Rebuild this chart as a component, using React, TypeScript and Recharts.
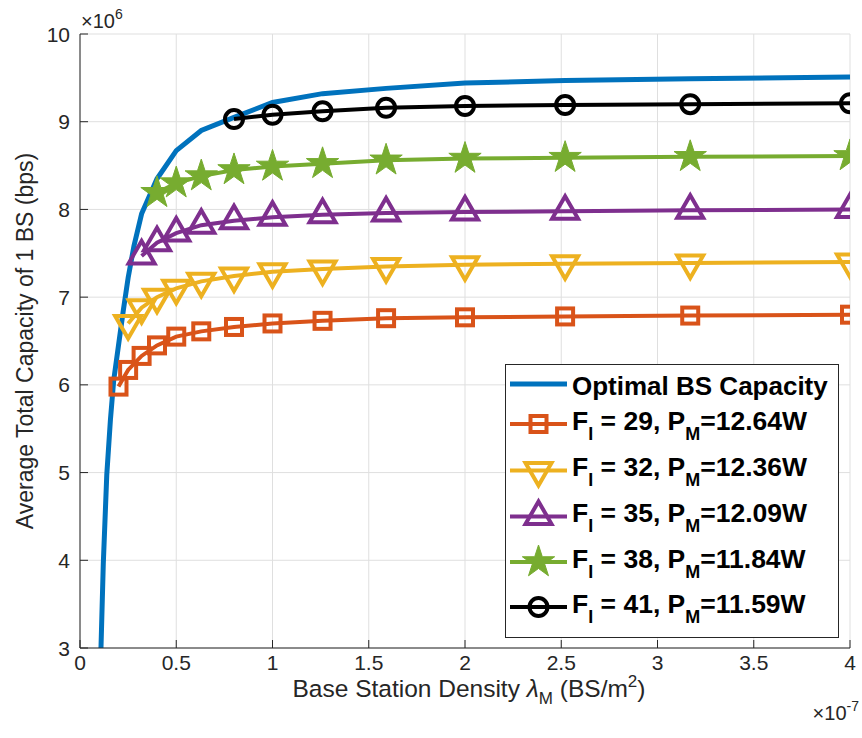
import { LineChart, Line, XAxis, YAxis, CartesianGrid } from "recharts"

const FONT = '"Liberation Sans", Arial, Helvetica, sans-serif'
const AXIS = "#262626"
const GRID = "#dfdfdf"

// x values are in units of 1e-7 BS/m^2, capacities in units of 1e6 bps
const xTicks = [0, 0.5, 1, 1.5, 2, 2.5, 3, 3.5, 4]
const yTicks = [3, 4, 5, 6, 7, 8, 9, 10]

const densityOptimal = [
  0.109, 0.121, 0.139, 0.158, 0.175, 0.2, 0.225, 0.25, 0.28, 0.32, 0.4, 0.5, 0.63, 0.8, 1.0, 1.26, 1.59, 2.0,
  2.52, 3.17, 4.0,
]
const capOptimal = [
  3.0, 3.96, 4.97, 5.6, 6.05, 6.45, 6.85, 7.22, 7.58, 7.95, 8.35, 8.67, 8.9, 9.05, 9.22, 9.32, 9.38, 9.44, 9.47,
  9.49, 9.51,
]

// sampled densities shared by the marker curves
const densitySampled = [0.2, 0.25, 0.32, 0.4, 0.5, 0.63, 0.8, 1.0, 1.26, 1.59, 2.0, 2.52, 3.17, 4.0]

const capF29 = [5.98, 6.17, 6.33, 6.45, 6.55, 6.61, 6.66, 6.7, 6.73, 6.76, 6.77, 6.78, 6.79, 6.8]
const capF32 = [6.7, 6.88, 7.0, 7.1, 7.18, 7.24, 7.29, 7.32, 7.35, 7.37, 7.38, 7.39, 7.4]
const capF35 = [7.47, 7.62, 7.73, 7.82, 7.87, 7.91, 7.94, 7.96, 7.97, 7.98, 7.99, 8.0]
const capF38 = [8.19, 8.3, 8.38, 8.45, 8.49, 8.52, 8.56, 8.58, 8.59, 8.6, 8.61]
const capF41 = [9.03, 9.08, 9.12, 9.16, 9.18, 9.19, 9.2, 9.21]

const fiValues = [29, 32, 35, 38, 41]
const pmValues = ["12.64", "12.36", "12.09", "11.84", "11.59"]

type Shape = "square" | "down" | "up" | "star" | "circle"

const toPoints = (xs: number[], ys: number[]) => ys.map((y, i) => ({ x: xs[i], y }))
// each marker curve starts later along the sampled densities
const tail = (ys: number[]) => toPoints(densitySampled.slice(densitySampled.length - ys.length), ys)

const series: { name: string; color: string; shape: Shape; data: { x: number; y: number }[] }[] = [
  { name: "f29", color: "#D95319", shape: "square", data: tail(capF29) },
  { name: "f32", color: "#EDB120", shape: "down", data: tail(capF32) },
  { name: "f35", color: "#7E2F8E", shape: "up", data: tail(capF35) },
  { name: "f38", color: "#77AC30", shape: "star", data: tail(capF38) },
  { name: "f41", color: "#000000", shape: "circle", data: tail(capF41) },
]

function starPath(cx: number, cy: number, R: number) {
  const r = R * 0.382
  let d = ""
  for (let i = 0; i < 10; i++) {
    const rad = i % 2 === 0 ? R : r
    const a = -Math.PI / 2 + (i * Math.PI) / 5
    d += `${i === 0 ? "M" : "L"}${cx + rad * Math.cos(a)},${cy + rad * Math.sin(a)}`
  }
  return d + "Z"
}

function Marker({ shape, cx, cy, color }: { shape: Shape; cx: number; cy: number; color: string }) {
  const sw = 4
  switch (shape) {
    case "square":
      return <rect x={cx - 8} y={cy - 8} width={16} height={16} fill="none" stroke={color} strokeWidth={sw} />
    case "down":
      return (
        <path
          d={`M${cx - 13},${cy - 7.5}L${cx + 13},${cy - 7.5}L${cx},${cy + 15}Z`}
          fill="none"
          stroke={color}
          strokeWidth={sw}
        />
      )
    case "up":
      return (
        <path
          d={`M${cx - 13},${cy + 7.5}L${cx + 13},${cy + 7.5}L${cx},${cy - 15}Z`}
          fill="none"
          stroke={color}
          strokeWidth={sw}
        />
      )
    case "star":
      return <path d={starPath(cx, cy, 17)} fill={color} stroke={color} strokeWidth={1} />
    default:
      return <circle cx={cx} cy={cy} r={9} fill="none" stroke={color} strokeWidth={sw} />
  }
}

function BottomTick({ x, y, payload }: any) {
  return (
    <g>
      <line x1={x} y1={y} x2={x} y2={y - 8} stroke={AXIS} />
      <text x={x} y={y + 22} textAnchor="middle" fontSize={21} fill={AXIS} fontFamily={FONT}>
        {String(payload.value)}
      </text>
    </g>
  )
}

function LeftTick({ x, y, payload }: any) {
  return (
    <g>
      <line x1={x} y1={y} x2={x + 8} y2={y} stroke={AXIS} />
      <text x={x - 10} y={y + 7.5} textAnchor="end" fontSize={21} fill={AXIS} fontFamily={FONT}>
        {String(payload.value)}
      </text>
    </g>
  )
}

function TopTick({ x, y }: any) {
  return <line x1={x} y1={y} x2={x} y2={y + 8} stroke={AXIS} />
}

function RightTick({ x, y }: any) {
  return <line x1={x} y1={y} x2={x - 8} y2={y} stroke={AXIS} />
}

const legendRows = [
  { lineY: 384, textY: 395 },
  { lineY: 424, textY: 430 },
  { lineY: 470.5, textY: 476 },
  { lineY: 516.5, textY: 522 },
  { lineY: 562, textY: 568 },
  { lineY: 607, textY: 613 },
]

function LegendBox() {
  return (
    <g fontFamily={FONT} fontWeight="bold" fill="#000">
      <rect x={505.5} y={364.5} width={333} height={273} fill="#fff" stroke={AXIS} strokeWidth={1} />
      <line x1={510} x2={567} y1={legendRows[0].lineY} y2={legendRows[0].lineY} stroke="#0072BD" strokeWidth={5} />
      <text x={572} y={legendRows[0].textY} fontSize={26}>
        Optimal BS Capacity
      </text>
      {series.map((s, i) => {
        const row = legendRows[i + 1]
        return (
          <g key={s.name}>
            <line x1={510} x2={567} y1={row.lineY} y2={row.lineY} stroke={s.color} strokeWidth={4} />
            <Marker shape={s.shape} cx={538.5} cy={row.lineY} color={s.color} />
            <text x={572} y={row.textY} fontSize={26.5}>
              F
              <tspan fontSize={18} dy={10}>
                I
              </tspan>
              <tspan dy={-10}>{` = ${fiValues[i]}, P`}</tspan>
              <tspan fontSize={18} dy={10}>
                M
              </tspan>
              <tspan dy={-10}>{`=${pmValues[i]}W`}</tspan>
            </text>
          </g>
        )
      })}
    </g>
  )
}

export default function App() {
  return (
    <div style={{ position: "absolute", left: 0, top: 0, width: 862, height: 738, background: "#fff" }}>
      <LineChart width={862} height={738} margin={{ top: 34, right: 12, bottom: 0, left: 0 }}>
        <CartesianGrid stroke={GRID} strokeWidth={1} />
        <XAxis
          dataKey="x"
          type="number"
          domain={[0, 4]}
          ticks={xTicks}
          interval={0}
          allowDataOverflow
          height={90}
          tickSize={0}
          tickMargin={0}
          axisLine={{ stroke: AXIS }}
          tickLine={false}
          tick={<BottomTick />}
        />
        <XAxis
          xAxisId="top"
          orientation="top"
          dataKey="x"
          type="number"
          domain={[0, 4]}
          ticks={xTicks}
          interval={0}
          allowDataOverflow
          height={0}
          tickSize={0}
          tickMargin={0}
          axisLine={{ stroke: AXIS }}
          tickLine={false}
          tick={<TopTick />}
        />
        <YAxis
          type="number"
          domain={[3, 10]}
          ticks={yTicks}
          interval={0}
          allowDataOverflow
          width={80}
          tickSize={0}
          tickMargin={0}
          axisLine={{ stroke: AXIS }}
          tickLine={false}
          tick={<LeftTick />}
        />
        <YAxis
          yAxisId="right"
          orientation="right"
          type="number"
          domain={[3, 10]}
          ticks={yTicks}
          interval={0}
          allowDataOverflow
          width={0}
          tickSize={0}
          tickMargin={0}
          axisLine={{ stroke: AXIS }}
          tickLine={false}
          tick={<RightTick />}
        />
        <Line
          data={toPoints(densityOptimal, capOptimal)}
          dataKey="y"
          type="linear"
          stroke="#0072BD"
          strokeWidth={5}
          dot={false}
          activeDot={false}
          isAnimationActive={false}
        />
        {series.map((s) => (
          <Line
            key={s.name}
            data={s.data}
            dataKey="y"
            type="linear"
            stroke={s.color}
            strokeWidth={4}
            activeDot={false}
            isAnimationActive={false}
            dot={(p: any) => (
              <Marker key={`${s.name}-${p.index}`} shape={s.shape} cx={p.cx} cy={p.cy} color={s.color} />
            )}
          />
        ))}
      </LineChart>
      <svg
        width={862}
        height={738}
        style={{ position: "absolute", left: 0, top: 0, pointerEvents: "none" }}
        fontFamily={FONT}
      >
        <LegendBox />
        <text x={81} y={28} fontSize={20} fill={AXIS}>
          ×10
          <tspan fontSize={14} dy={-9}>
            6
          </tspan>
        </text>
        <text
          transform="translate(33, 341) rotate(-90)"
          textAnchor="middle"
          fontSize={23}
          fill={AXIS}
        >
          Average Total Capacity of 1 BS (bps)
        </text>
        <text x={469} y={697} textAnchor="middle" fontSize={24.5} fill={AXIS}>
          Base Station Density{" "}
          <tspan fontStyle="italic">λ</tspan>
          <tspan fontSize={17} dy={7}>
            M
          </tspan>
          <tspan dy={-7}> (BS/m</tspan>
          <tspan fontSize={17} dy={-10}>
            2
          </tspan>
          <tspan dy={10}>)</tspan>
        </text>
        <text x={859} y={720} textAnchor="end" fontSize={20} fill={AXIS}>
          ×10
          <tspan fontSize={14} dy={-9}>
            -7
          </tspan>
        </text>
      </svg>
    </div>
  )
}
